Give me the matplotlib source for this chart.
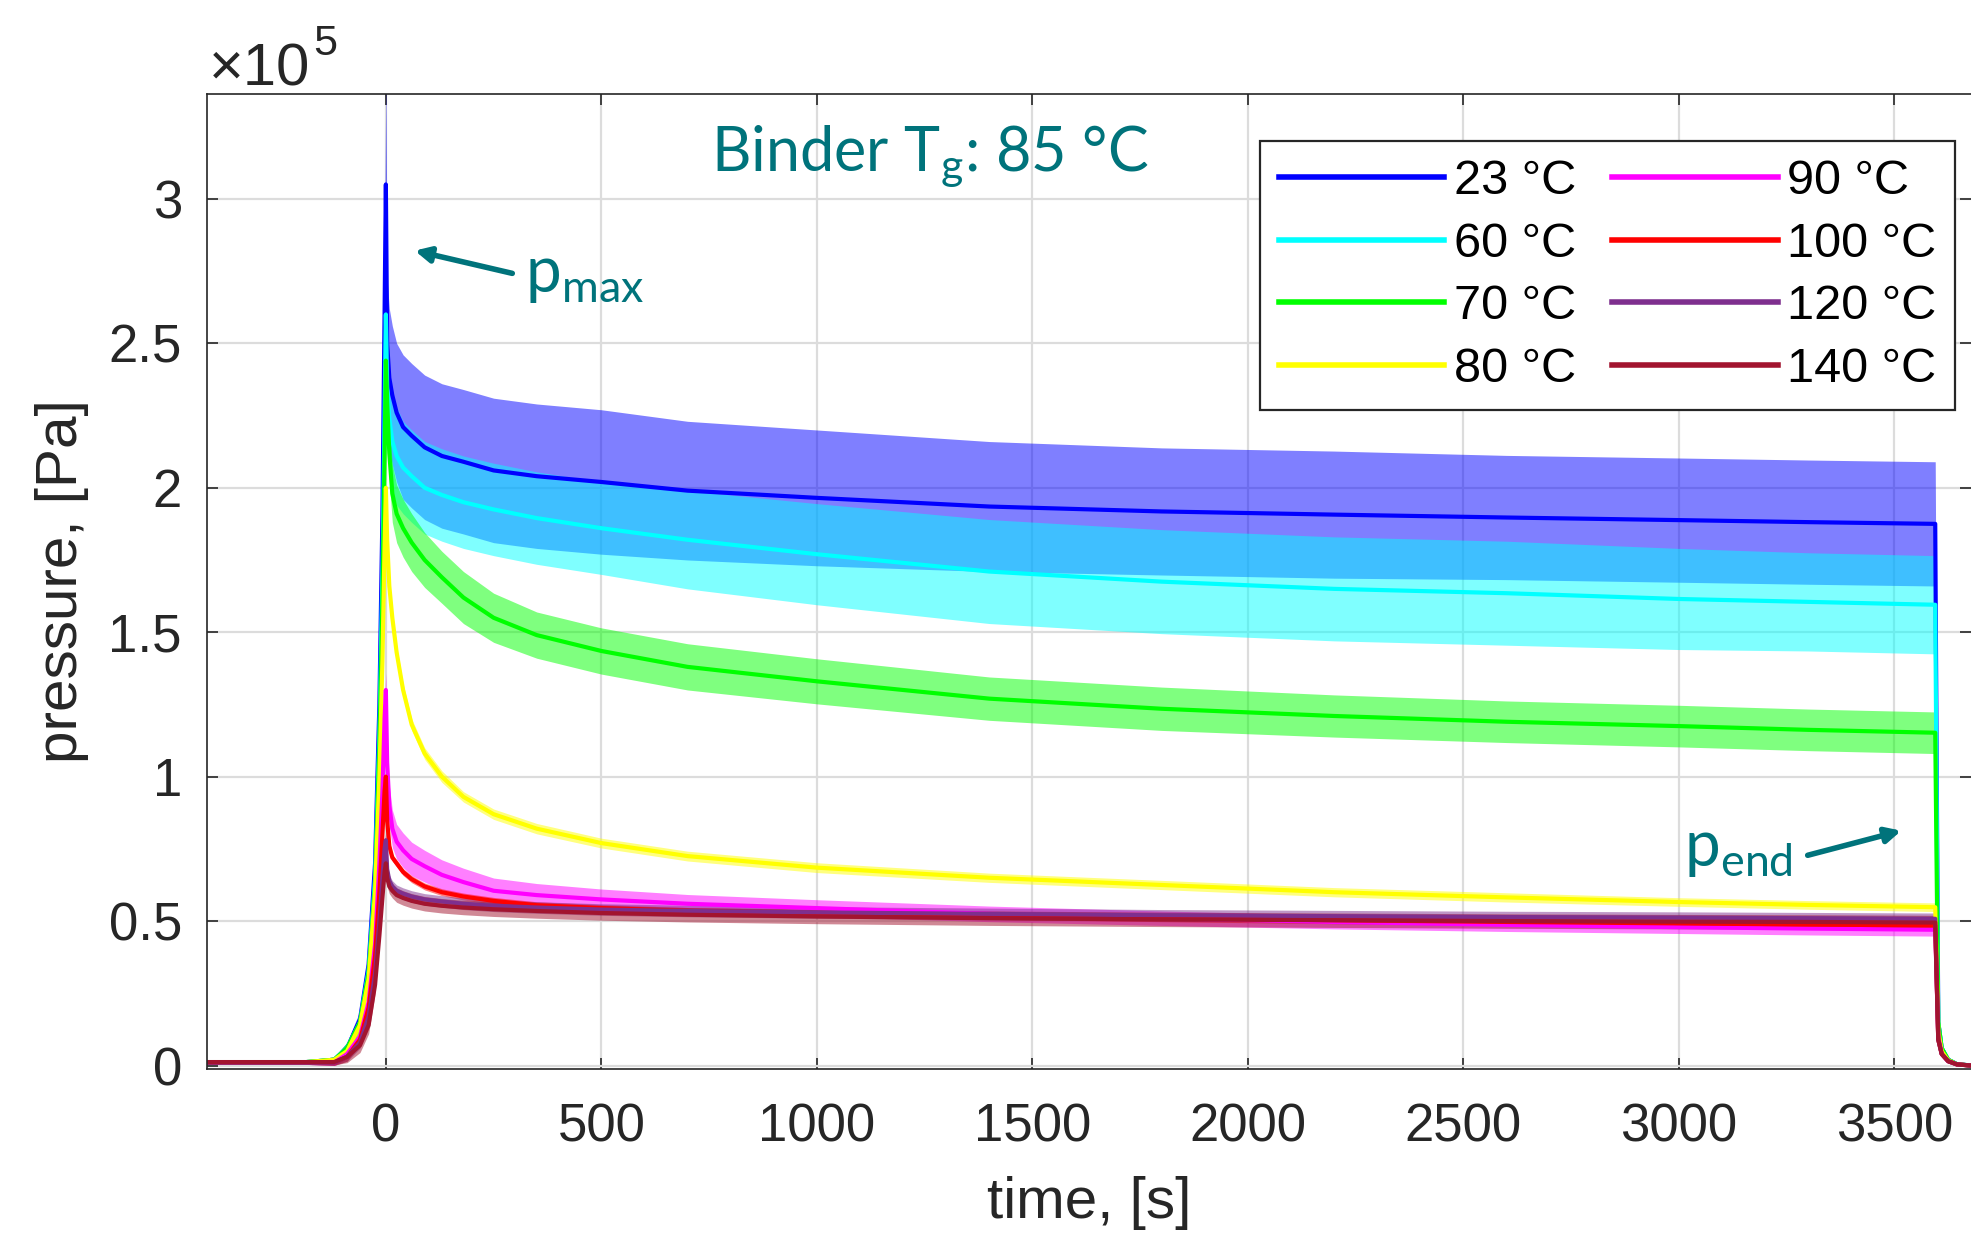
import matplotlib
matplotlib.use("Agg")
import matplotlib.pyplot as plt
from matplotlib.ticker import FuncFormatter
import numpy as np

# time axis shared by all runs, in s
time_s = [-414, -200, -120, -90, -60, -40, -25, -15, -8, -3, 0, 3, 8, 15, 25,
          40, 60, 90, 130, 180, 250, 350, 500, 700, 1000, 1400, 1800, 2200,
          2600, 3000, 3300, 3595, 3602, 3610, 3625, 3645, 3678]

# mean pressure per run, in 1e5 Pa
p_23 = [0.01, 0.01, 0.02, 0.06, 0.16, 0.35, 0.70, 1.25, 1.90, 2.60, 3.05, 2.50, 2.38, 2.32, 2.26,
        2.21, 2.18, 2.14, 2.11, 2.09, 2.06, 2.04, 2.02, 1.99, 1.965, 1.935, 1.918, 1.907,
        1.897, 1.888, 1.881, 1.875, 0.15, 0.06, 0.02, 0.005, 0.0]
p_60 = [0.01, 0.01, 0.02, 0.06, 0.15, 0.33, 0.65, 1.15, 1.70, 2.25, 2.60, 2.35, 2.24, 2.16, 2.11,
        2.07, 2.04, 2.00, 1.975, 1.95, 1.925, 1.895, 1.86, 1.82, 1.77, 1.71, 1.675, 1.65,
        1.635, 1.615, 1.605, 1.595, 0.15, 0.06, 0.02, 0.005, 0.0]
p_70 = [0.01, 0.01, 0.02, 0.06, 0.15, 0.32, 0.62, 1.10, 1.60, 2.10, 2.44, 2.30, 2.12, 1.98, 1.91,
        1.86, 1.81, 1.75, 1.69, 1.62, 1.55, 1.49, 1.435, 1.38, 1.33, 1.27, 1.235, 1.21,
        1.19, 1.175, 1.162, 1.152, 0.15, 0.06, 0.02, 0.005, 0.0]
p_80 = [0.01, 0.01, 0.02, 0.05, 0.14, 0.30, 0.60, 1.00, 1.40, 1.80, 2.00, 1.82, 1.66, 1.55, 1.43,
        1.30, 1.18, 1.08, 1.00, 0.93, 0.87, 0.82, 0.77, 0.725, 0.685, 0.65, 0.625, 0.60,
        0.582, 0.566, 0.556, 0.548, 0.12, 0.05, 0.018, 0.004, 0.0]
p_90 = [0.01, 0.01, 0.01, 0.04, 0.10, 0.22, 0.42, 0.70, 0.95, 1.20, 1.30, 1.05, 0.90, 0.82, 0.775,
        0.745, 0.715, 0.69, 0.66, 0.635, 0.605, 0.59, 0.575, 0.56, 0.545, 0.525, 0.51, 0.497,
        0.487, 0.479, 0.474, 0.47, 0.10, 0.04, 0.015, 0.004, 0.0]
p_100 = [0.01, 0.01, 0.01, 0.03, 0.09, 0.20, 0.38, 0.60, 0.80, 0.95, 1.00, 0.85, 0.76, 0.72, 0.70,
         0.67, 0.645, 0.62, 0.60, 0.585, 0.57, 0.555, 0.545, 0.535, 0.527, 0.518, 0.51, 0.503,
         0.497, 0.492, 0.488, 0.485, 0.09, 0.04, 0.015, 0.004, 0.0]
p_120 = [0.01, 0.01, 0.01, 0.03, 0.08, 0.17, 0.32, 0.50, 0.65, 0.75, 0.78, 0.68, 0.64, 0.62, 0.605,
         0.595, 0.585, 0.575, 0.568, 0.56, 0.553, 0.547, 0.54, 0.535, 0.53, 0.525, 0.52, 0.517,
         0.514, 0.512, 0.51, 0.508, 0.09, 0.04, 0.015, 0.004, 0.0]
p_140 = [0.012, 0.012, 0.012, 0.03, 0.07, 0.14, 0.28, 0.45, 0.58, 0.67, 0.70, 0.65, 0.62, 0.605, 0.59,
         0.58, 0.57, 0.56, 0.553, 0.547, 0.541, 0.535, 0.528, 0.522, 0.516, 0.51, 0.506, 0.503,
         0.50, 0.498, 0.497, 0.495, 0.09, 0.04, 0.015, 0.004, 0.0]

# scatter (+/- band half width) per run, in 1e5 Pa
sd_23 = [0.005, 0.005, 0.01, 0.02, 0.03, 0.04, 0.05, 0.08, 0.12, 0.20, 0.40, 0.22, 0.24, 0.24, 0.24,
         0.25, 0.25, 0.25, 0.25, 0.25, 0.25, 0.25, 0.25, 0.24, 0.235, 0.225, 0.22, 0.22,
         0.215, 0.215, 0.215, 0.215, 0.01, 0.005, 0.005, 0.0, 0.0]
sd_60 = [0.005, 0.005, 0.01, 0.02, 0.03, 0.04, 0.05, 0.07, 0.10, 0.12, 0.15, 0.16, 0.17, 0.17, 0.17,
         0.16, 0.16, 0.16, 0.16, 0.16, 0.16, 0.16, 0.16, 0.17, 0.175, 0.18, 0.18, 0.18,
         0.18, 0.175, 0.17, 0.17, 0.01, 0.005, 0.005, 0.0, 0.0]
sd_70 = [0.005, 0.005, 0.01, 0.02, 0.03, 0.04, 0.05, 0.06, 0.08, 0.10, 0.10, 0.10, 0.10, 0.10, 0.10,
         0.10, 0.10, 0.095, 0.09, 0.09, 0.085, 0.08, 0.08, 0.08, 0.078, 0.075, 0.075, 0.073,
         0.072, 0.072, 0.072, 0.072, 0.01, 0.005, 0.005, 0.0, 0.0]
sd_80 = [0.005, 0.005, 0.01, 0.015, 0.02, 0.02, 0.03, 0.03, 0.03, 0.03, 0.03, 0.03, 0.03, 0.025, 0.025,
         0.022, 0.02, 0.02, 0.02, 0.018, 0.018, 0.018, 0.017, 0.017, 0.017, 0.016, 0.016, 0.016,
         0.016, 0.015, 0.015, 0.015, 0.01, 0.005, 0.005, 0.0, 0.0]
sd_90 = [0.005, 0.005, 0.01, 0.015, 0.02, 0.03, 0.04, 0.05, 0.06, 0.06, 0.06, 0.07, 0.07, 0.065, 0.06,
         0.06, 0.058, 0.055, 0.052, 0.048, 0.044, 0.04, 0.036, 0.032, 0.029, 0.027, 0.025, 0.024,
         0.023, 0.022, 0.022, 0.022, 0.01, 0.005, 0.005, 0.0, 0.0]
sd_100 = [0.005, 0.005, 0.01, 0.015, 0.02, 0.02, 0.02, 0.02, 0.02, 0.02, 0.02, 0.015, 0.012, 0.012, 0.012,
          0.012, 0.012, 0.012, 0.012, 0.012, 0.012, 0.012, 0.012, 0.012, 0.012, 0.012, 0.012, 0.012,
          0.012, 0.012, 0.012, 0.012, 0.01, 0.005, 0.005, 0.0, 0.0]
sd_120 = [0.005, 0.005, 0.01, 0.015, 0.02, 0.025, 0.03, 0.03, 0.03, 0.03, 0.03, 0.025, 0.02, 0.02, 0.02,
          0.02, 0.02, 0.02, 0.02, 0.02, 0.02, 0.02, 0.02, 0.02, 0.02, 0.02, 0.02, 0.02,
          0.02, 0.02, 0.02, 0.02, 0.01, 0.005, 0.005, 0.0, 0.0]
sd_140 = [0.008, 0.008, 0.01, 0.02, 0.025, 0.03, 0.03, 0.03, 0.03, 0.03, 0.03, 0.03, 0.025, 0.025, 0.025,
          0.025, 0.025, 0.025, 0.025, 0.025, 0.025, 0.025, 0.025, 0.025, 0.025, 0.025, 0.025, 0.025,
          0.025, 0.025, 0.025, 0.025, 0.012, 0.008, 0.006, 0.004, 0.004]

labels = ["23 °C", "60 °C", "70 °C", "80 °C", "90 °C", "100 °C", "120 °C", "140 °C"]
colors = ["#0000FF", "#00FFFF", "#00FF00", "#FFFF00", "#FF00FF", "#FF0000", "#7E2F8E", "#A2142F"]
means = [p_23, p_60, p_70, p_80, p_90, p_100, p_120, p_140]
spreads = [sd_23, sd_60, sd_70, sd_80, sd_90, sd_100, sd_120, sd_140]

TEAL = "#00737B"
INK = "#262626"

plt.rcParams.update({
    "font.family": ["Liberation Sans", "DejaVu Sans"],
    "axes.edgecolor": INK,
    "axes.linewidth": 1.2,
    "xtick.color": INK,
    "ytick.color": INK,
})

fig = plt.figure(figsize=(19.71, 12.33), dpi=100)
ax = fig.add_axes([207 / 1971, 164 / 1233, 1 - 207 / 1971, 975 / 1233])

t = np.array(time_s, dtype=float)
handles = []
for lab, c, m, s in zip(labels, colors, means, spreads):
    m = np.array(m)
    s = np.array(s)
    ax.fill_between(t, m - s, m + s, color=c, alpha=0.5, linewidth=0)
    (ln,) = ax.plot(t, m, color=c, linewidth=3.0, label=lab, solid_joinstyle="round")
    handles.append(ln)

ax.set_xlim(-415, 3678)
ax.set_ylim(-0.012, 3.363)
ax.set_xticks(range(0, 4000, 500))
ax.set_yticks([0, 0.5, 1, 1.5, 2, 2.5, 3])
ax.yaxis.set_major_formatter(FuncFormatter(lambda v, _: f"{v:g}"))
ax.tick_params(direction="in", length=8, width=1.2, labelsize=38,
               top=True, right=True, labelcolor=INK)
ax.tick_params(axis="x", pad=24)
ax.tick_params(axis="y", pad=18)
ax.spines["right"].set_visible(False)
ax.grid(True, color="#DCDCDC", linewidth=1.6)
ax.set_axisbelow(True)

ax.set_xlabel("time, [s]", fontsize=42, color=INK, labelpad=17)
ax.set_ylabel("pressure, [Pa]", fontsize=42, color=INK, labelpad=14)

# exponent label above the y axis
base = fig.text(209 / 1971, 1 - 86 / 1233, "×10", fontsize=43, color=INK,
                ha="left", va="baseline")
fig.canvas.draw()
ax.annotate("5", xy=(1.0, 0.62), xycoords=base, xytext=(2, 0),
            textcoords="offset points", fontsize=31, color=INK,
            ha="left", va="bottom")

leg = ax.legend(handles=handles, ncol=2, loc="upper right",
                bbox_to_anchor=(0.991, 0.952), fontsize=35, frameon=True,
                fancybox=False, edgecolor=INK, framealpha=1,
                handlelength=3.4, handletextpad=0.2, columnspacing=0.75,
                labelspacing=0.36, borderpad=0.38, borderaxespad=0)
leg.get_frame().set_linewidth(1.6)
for h in leg.legend_handles:
    h.set_linewidth(4)

ax.text(0.41, 0.936, r"Binder T$_\mathregular{g}$: 85 °C", transform=ax.transAxes,
        fontsize=44, color=TEAL, family="Lato", ha="center", va="center")

ax.annotate("", xy=(412, 1233 - 250), xycoords="figure pixels",
            xytext=(515, 1233 - 274), textcoords="figure pixels",
            arrowprops=dict(arrowstyle="-|>,head_length=0.9,head_width=0.45",
                            color=TEAL, lw=4))
fig.text(525, 1233 - 292, r"p$_\mathregular{max}$", transform=None,
         fontsize=46, color=TEAL, family="Lato", ha="left", va="baseline")

ax.annotate("", xy=(1904, 1233 - 830), xycoords="figure pixels",
            xytext=(1805, 1233 - 856), textcoords="figure pixels",
            arrowprops=dict(arrowstyle="-|>,head_length=0.9,head_width=0.45",
                            color=TEAL, lw=4))
fig.text(1684, 1233 - 866, r"p$_\mathregular{end}$", transform=None,
         fontsize=46, color=TEAL, family="Lato", ha="left", va="baseline")

fig.savefig("out.png", dpi=100)
